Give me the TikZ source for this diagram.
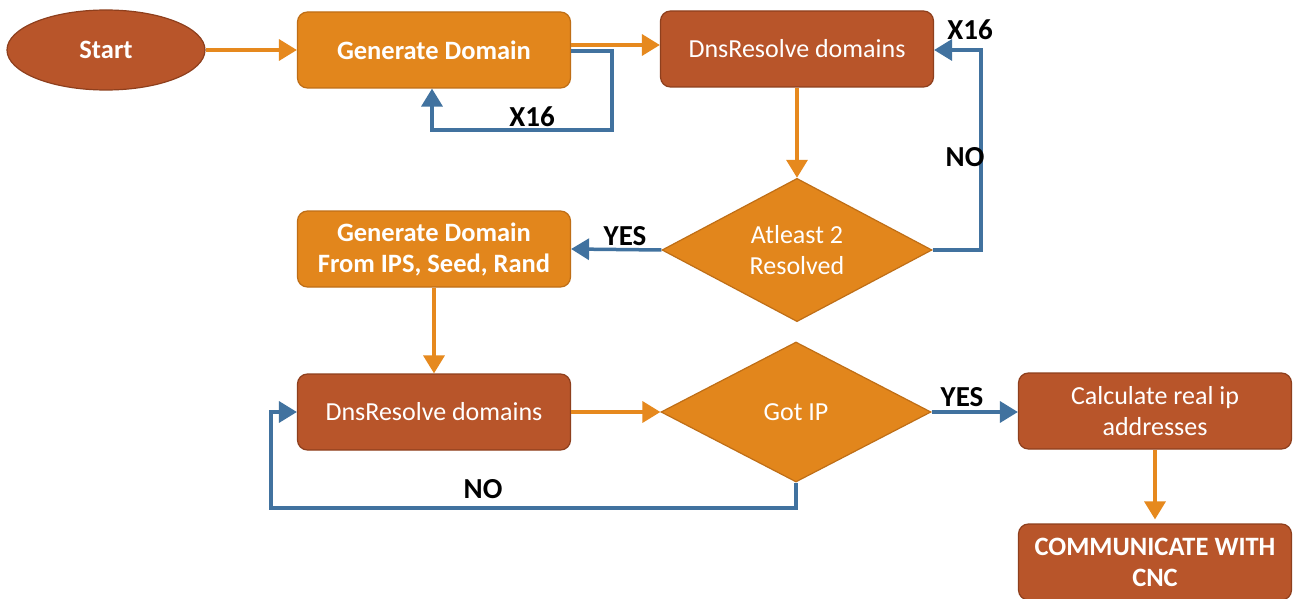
\documentclass[tikz,border=0pt]{standalone}
\usepackage{fontspec}
\setmainfont{Carlito}
\usetikzlibrary{shapes.geometric,arrows.meta}

\definecolor{orfill}{HTML}{E2861C}
\definecolor{ordraw}{HTML}{BF6E16}
\definecolor{rustfill}{HTML}{B8552A}
\definecolor{rustdraw}{HTML}{8E3F1D}
\definecolor{flowblue}{HTML}{41729F}
\definecolor{floworange}{HTML}{E6891E}

\tikzset{
  box/.style={rectangle, rounded corners=10pt, minimum width=273pt, minimum height=76pt,
    inner sep=2pt, align=center, text=white, line width=1.2pt, font=\fontsize{26}{31}\selectfont},
  orbox/.style={box, fill=orfill, draw=ordraw},
  rustbox/.style={box, fill=rustfill, draw=rustdraw},
  boldtxt/.style={font=\fontsize{26.5}{31}\selectfont\bfseries},
  decision/.style={diamond, fill=orfill, draw=ordraw, line width=1.2pt, inner sep=0pt,
    minimum width=270pt, minimum height=140pt, align=center, text=white,
    font=\fontsize{26}{30.5}\selectfont},
  terminal/.style={ellipse, fill=rustfill, draw=rustdraw, line width=1.2pt,
    minimum width=198pt, minimum height=80pt, text=white, font=\fontsize{26.5}{31}\selectfont\bfseries},
  oarrow/.style={draw=floworange, line width=3.5pt, -{Triangle[length=18pt,width=21pt]}, color=floworange},
  barrow/.style={draw=flowblue, line width=3.5pt, -{Triangle[length=18pt,width=21pt]}, color=flowblue},
  lbl/.style={text=black, font=\fontsize{29}{33}\selectfont\bfseries, inner sep=0pt}
}

\begin{document}
\begin{tikzpicture}[x=1pt, y=-1pt]
\useasboundingbox[fill=white] (0,0) rectangle (1294,599);

% process nodes
\node[terminal] (start) at (106,50) {Start};
\node[orbox, boldtxt] (gen1) at (434,50) {Generate Domain};
\node[rustbox] (dns1) at (797,49) {DnsResolve domains};
\node[decision] (dia1) at (797,250) {Atleast 2\\Resolved};
\node[orbox, boldtxt] (gen2) at (434,249) {Generate Domain\\From IPS, Seed, Rand};
\node[rustbox] (dns2) at (434,412) {DnsResolve domains};
\node[decision] (dia2) at (796,412) {Got IP};
\node[rustbox] (calc) at (1155,411) {Calculate real ip\\addresses};
\node[rustbox, boldtxt] (comm) at (1155,562) {COMMUNICATE WITH\\CNC};

% loop corners
\coordinate (g1r) at (612,130);
\coordinate (d1r) at (981,250);
\coordinate (d2b) at (271,508);

% connectors
\draw[oarrow] (start) -- (gen1);
\draw[oarrow] ([yshift=5pt]gen1.east) -- ([yshift=4pt]dns1.west);
\draw[barrow] ([yshift=-1pt]gen1.east) -| (g1r) -| ([xshift=-2pt]gen1.south);
\draw[oarrow] (dns1.south) -- (dia1.north);
\draw[barrow] (dia1.east) -| (d1r) |- ([yshift=-1pt]dns1.east);
\draw[barrow] (dia1.west) -- (gen2.east);
\draw[oarrow] (gen2.south) -- (dns2.north);
\draw[oarrow] (dns2.east) -- (dia2.west);
\draw[barrow] (dia2.east) -- (dia2.east -| calc.west);
\draw[barrow] (dia2.south) |- (d2b) |- (dns2.west);
\draw[oarrow] (calc.south) -- ([yshift=4pt]comm.north);

% branch labels
\node[lbl] at (532,117) {X16};
\node[lbl] at (970,30) {X16};
\node[lbl] at (965,157) {NO};
\node[lbl] at (625,236) {YES};
\node[lbl] at (962,397) {YES};
\node[lbl] at (483,489) {NO};
\end{tikzpicture}
\end{document}
